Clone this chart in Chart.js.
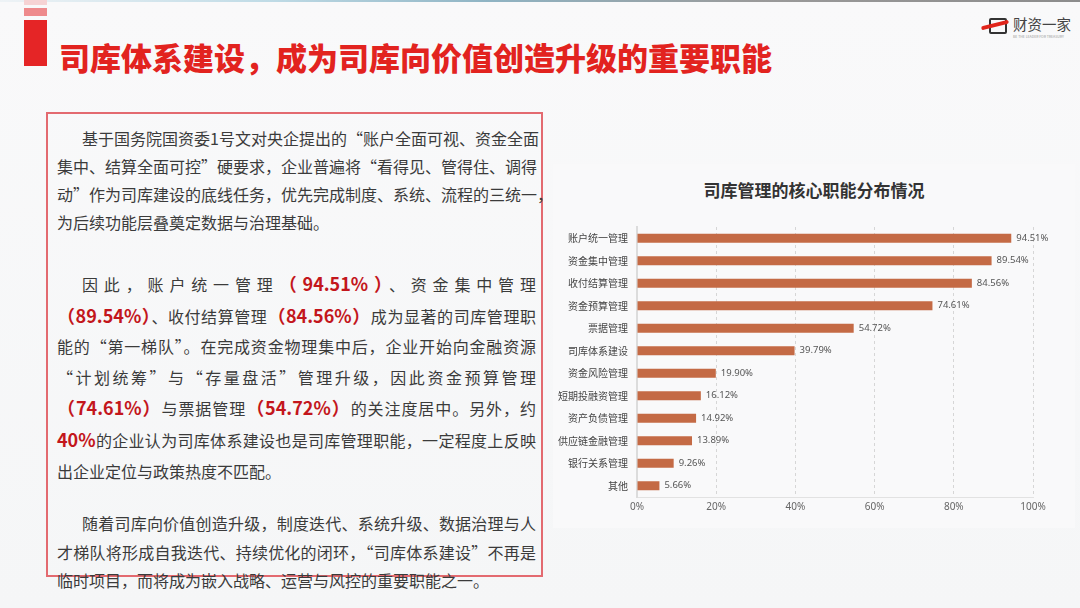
<!DOCTYPE html>
<html lang="zh-CN">
<head>
<meta charset="utf-8">
<title>司库管理的核心职能分布情况</title>
<script src="https://cdn.jsdelivr.net/npm/chart.js@4.4.1/dist/chart.umd.min.js"></script>
<style>
    html, body { margin: 0; padding: 0; }
    body {
        width: 1080px; height: 608px; overflow: hidden; position: relative;
        background: linear-gradient(180deg, #f9f9fa 0%, #f5f6f7 100%);
        font-family: "Noto Sans CJK SC", "Noto Sans", sans-serif;
    }
    .topline { position: absolute; left: 0; top: 0; width: 1080px; height: 2px;
        background: linear-gradient(90deg, #eef3f6 0%, #bfdbe6 25%, #8fb4c4 45%, #9a9a9a 70%, #8c8c8c 100%); }
    .mark { position: absolute; left: 24px; width: 23px; }
    .mark.a { top: 0; height: 5px; background: #f6d3d4; }
    .mark.b { top: 8px; height: 8px; background: #ee8a8c; }
    .mark.c { top: 20px; height: 46px; background: #e52526; }
    .title { position: absolute; left: 59px; top: 36px; font-size: 31px; font-weight: 900;
        color: #e2231f; white-space: nowrap; line-height: 42px; }
    .logo { position: absolute; left: 984px; top: 14px; width: 96px; height: 30px; }
    .logo .box { position: absolute; left: 5px; top: 4px; width: 14px; height: 12px;
        border: 2px solid #333; border-radius: 2px; }
    .logo .swoosh { position: absolute; left: -3px; top: 9px; width: 28px; height: 4px;
        background: #e1251b; transform: rotate(-14deg); border-radius: 2px; }
    .logo .name { position: absolute; left: 29px; top: 0; font-size: 14.5px; color: #444; line-height: 20px; }
    .logo .sub { position: absolute; left: 29px; top: 20px; font-size: 3.5px; color: #999; white-space: nowrap; }
    .frame { position: absolute; left: 46px; top: 112px; width: 493px; height: 461px;
        border: 2px solid #e36a70; }
    .para { position: absolute; left: 57px; width: 479px; color: #3b3b3b; font-size: 16px; }
    .para div { white-space: nowrap; }
    .para .j { text-align: justify; text-align-last: justify; }
    .para .in { padding-left: 25px; }
    .r { color: #c3161c; font-weight: 700; font-size: 18px; }
    .panel { position: absolute; left: 553px; top: 164px; width: 522px; height: 364px; background: #f9f9fa; }
    .ctitle { position: absolute; left: 553px; width: 522px; top: 176px; text-align: center;
        font-size: 17px; font-weight: 700; color: #333; line-height: 28px; }
    .chartbox { position: absolute; left: 548px; top: 212px; width: 532px; height: 309px; }
</style>
</head>
<body>
<div class="topline"></div>
<div class="mark a"></div><div class="mark b"></div><div class="mark c"></div>
<div class="title">司库体系建设，成为司库向价值创造升级的重要职能</div>
<div class="logo">
    <div class="box"></div><div class="swoosh"></div>
    <div class="name">财资一家</div>
    <div class="sub">BE THE LEADER FOR TREASURY</div>
</div>

<div class="frame"></div>
<div class="para" style="top:124px; line-height:28px;">
    <div class="j in">基于国务院国资委1号文对央企提出的“账户全面可视、资金全面</div>
    <div class="j">集中、结算全面可控”硬要求，企业普遍将“看得见、管得住、调得</div>
    <div class="j">动”作为司库建设的底线任务，优先完成制度、系统、流程的三统一，</div>
    <div>为后续功能层叠奠定数据与治理基础。</div>
</div>
<div class="para" style="top:268px; line-height:30.6px;">
    <div class="j in">因此，账户统一管理<span class="r">（94.51%）</span>、资金集中管理</div>
    <div class="j"><span class="r">（89.54%）</span>、收付结算管理<span class="r">（84.56%）</span>成为显著的司库管理职</div>
    <div class="j">能的“第一梯队”。在完成资金物理集中后，企业开始向金融资源</div>
    <div class="j">“计划统筹”与“存量盘活”管理升级，因此资金预算管理</div>
    <div class="j"><span class="r">（74.61%）</span>与票据管理<span class="r">（54.72%）</span>的关注度居中。另外，约</div>
    <div class="j"><span class="r">40%</span>的企业认为司库体系建设也是司库管理职能，一定程度上反映</div>
    <div>出企业定位与政策热度不匹配。</div>
</div>
<div class="para" style="top:509px; line-height:28.5px;">
    <div class="j in">随着司库向价值创造升级，制度迭代、系统升级、数据治理与人</div>
    <div class="j">才梯队将形成自我迭代、持续优化的闭环，“司库体系建设”不再是</div>
    <div>临时项目，而将成为嵌入战略、运营与风控的重要职能之一。</div>
</div>

<div class="panel"></div>
<div class="ctitle">司库管理的核心职能分布情况</div>
<div class="chartbox"><canvas id="funcChart"></canvas></div>

<script>
// data
const categories = ["账户统一管理", "资金集中管理", "收付结算管理", "资金预算管理", "票据管理", "司库体系建设",
    "资金风险管理", "短期投融资管理", "资产负债管理", "供应链金融管理", "银行关系管理", "其他"];
const shareValues = [94.51, 89.54, 84.56, 74.61, 54.72, 39.79, 19.90, 16.12, 14.92, 13.89, 9.26, 5.66];
const xTicks = [0, 20, 40, 60, 80, 100];

// value labels at the end of each bar
const barLabels = {
    id: 'barLabels',
    afterDatasetsDraw(chart) {
        const ctx = chart.ctx;
        const meta = chart.getDatasetMeta(0);
        ctx.save();
        ctx.font = '9.5px "Noto Sans", sans-serif';
        ctx.fillStyle = '#555';
        ctx.textAlign = 'left';
        ctx.textBaseline = 'middle';
        meta.data.forEach((bar, i) => {
            ctx.fillText(shareValues[i].toFixed(2) + '%', bar.x + 5, bar.y);
        });
        ctx.restore();
    }
};

new Chart(document.getElementById('funcChart'), {
    type: 'bar',
    data: {
        labels: categories,
        datasets: [{
            data: shareValues,
            backgroundColor: '#c46a45',
            categoryPercentage: 1,
            barPercentage: 0.4
        }]
    },
    options: {
        indexAxis: 'y',
        responsive: true,
        maintainAspectRatio: false,
        animation: false,
        layout: { padding: { top: 13, right: 47, bottom: 0, left: 0 } },
        plugins: { legend: { display: false }, tooltip: { enabled: false } },
        scales: {
            x: {
                min: 0, max: 100,
                afterBuildTicks: s => { s.ticks = xTicks.map(v => ({ value: v })); },
                afterFit: s => { s.height = 24; },
                ticks: {
                    color: '#666', padding: 4,
                    font: { size: 10, family: '"Noto Sans", sans-serif' },
                    callback: v => v + '%'
                },
                grid: { color: '#d6d6d6', lineWidth: 1, drawTicks: false },
                border: { display: true, color: '#e2e2e2', width: 1, dash: [3, 3] }
            },
            y: {
                afterFit: s => { s.width = 89; },
                ticks: {
                    color: '#444', padding: 9,
                    font: { size: 10, family: '"Noto Sans CJK SC", sans-serif' }
                },
                grid: { display: false, drawTicks: false },
                border: { display: true, color: '#dcdcdc', width: 2 }
            }
        }
    },
    plugins: [barLabels]
});
</script>
</body>
</html>
